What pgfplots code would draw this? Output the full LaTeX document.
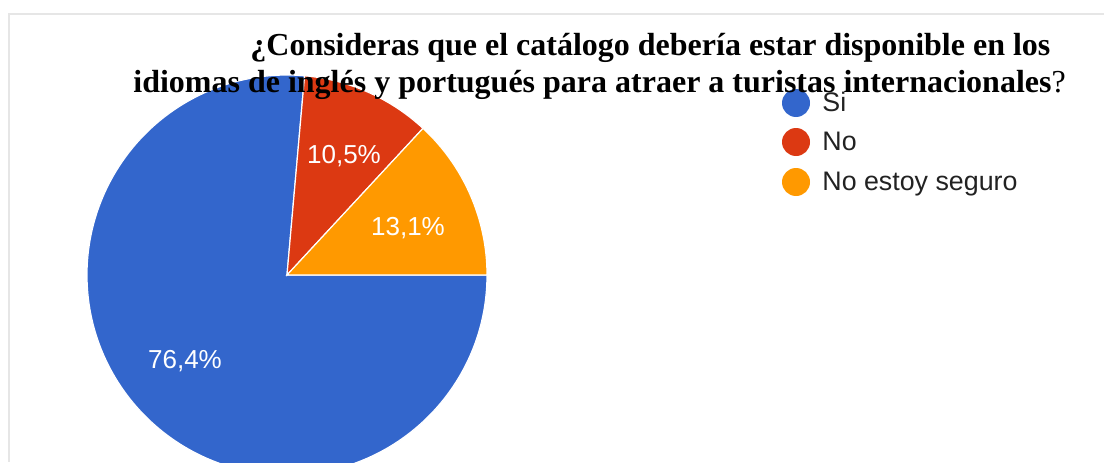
\documentclass[border=0pt]{standalone}
\usepackage{fontspec}
\setmainfont{Liberation Serif}
\newfontfamily\arialf{Liberation Sans}
\usepackage{pgfplots}
\usepackage{pgfplotstable}
\pgfplotsset{compat=1.18}
\definecolor{cSi}{HTML}{3366CC}
\definecolor{cNo}{HTML}{DC3912}
\definecolor{cNs}{HTML}{FF9900}
\definecolor{framec}{HTML}{E6E6E6}
\definecolor{legtext}{HTML}{222222}

\pgfplotstableread{
idx value
0 76.4
1 10.5
2 13.1
}\piedata

\begin{document}
\begin{tikzpicture}
\useasboundingbox (0,0) rectangle (552pt,231pt);
\pgfplotstablegetelem{0}{value}\of\piedata \edef\vA{\pgfplotsretval}
\pgfplotstablegetelem{1}{value}\of\piedata \edef\vB{\pgfplotsretval}
\pgfplotstablegetelem{2}{value}\of\piedata \edef\vC{\pgfplotsretval}
\pgfmathsetmacro\aA{-3.6*\vA}
\pgfmathsetmacro\aB{\aA-3.6*\vB}
\pgfmathsetmacro\aC{\aB-3.6*\vC}
\begin{axis}[
  at={(0,0)}, anchor=south west,
  x=0.5pt, y=0.5pt,
  xmin=0, xmax=1104, ymin=0, ymax=462,
  hide axis, clip=true,
]
% frame
\draw[framec, line width=1pt] (axis cs:9,0) -- (axis cs:9,448) -- (axis cs:1104,448);
% slices
\filldraw[fill=cSi, draw=white, line width=0.6pt] (axis cs:287,187) -- ++(0:100pt) arc[start angle=0, end angle=\aA, radius=100pt] -- cycle;
\filldraw[fill=cNo, draw=white, line width=0.6pt] (axis cs:287,187) -- ++(\aA:100pt) arc[start angle=\aA, end angle=\aB, radius=100pt] -- cycle;
\filldraw[fill=cNs, draw=white, line width=0.6pt] (axis cs:287,187) -- ++(\aB:100pt) arc[start angle=\aB, end angle=\aC, radius=100pt] -- cycle;
% slice labels
\node[anchor=base, text=white, font=\arialf\fontsize{13}{15}\selectfont, inner sep=0pt] at (axis cs:185,94) {76,4\%};
\node[anchor=base, text=white, font=\arialf\fontsize{13}{15}\selectfont, inner sep=0pt] at (axis cs:344,299) {10,5\%};
\node[anchor=base, text=white, font=\arialf\fontsize{13}{15}\selectfont, inner sep=0pt] at (axis cs:408,227) {13,1\%};
% legend
\fill[cSi] (axis cs:796,359) circle[radius=7pt];
\fill[cNo] (axis cs:796,320) circle[radius=7pt];
\fill[cNs] (axis cs:796,280) circle[radius=7pt];
\node[anchor=base west, text=legtext, font=\arialf\fontsize{13.4}{15}\selectfont, inner sep=0pt] at (axis cs:822,351) {Si};
\node[anchor=base west, text=legtext, font=\arialf\fontsize{13.4}{15}\selectfont, inner sep=0pt] at (axis cs:822,312) {No};
\node[anchor=base west, text=legtext, font=\arialf\fontsize{13.4}{15}\selectfont, inner sep=0pt] at (axis cs:822,272) {No estoy seguro};
% title
\node[anchor=base west, inner sep=0pt, font=\bfseries\fontsize{16}{18}\selectfont] at (axis cs:250,407) {¿Consideras que el catálogo debería estar disponible en los};
\node[anchor=base west, inner sep=0pt, font=\fontsize{16}{18}\selectfont] at (axis cs:133,370) {\textbf{idiomas de inglés y portugués para atraer a turistas internacionales}?};
\end{axis}
\end{tikzpicture}
\end{document}
